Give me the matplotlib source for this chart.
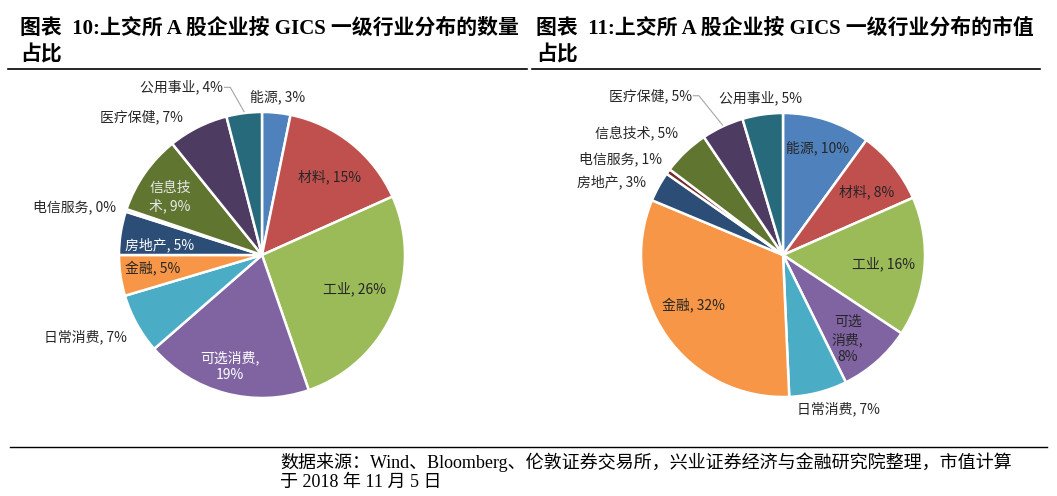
import numpy as np
import matplotlib.pyplot as plt
from matplotlib.lines import Line2D

plt.rcParams['font.family'] = ['Noto Sans CJK SC', 'DejaVu Sans']

W, H = 1057, 496

# 行业（顺时针，从12点方向开始）
categories = ['能源', '材料', '工业', '可选消费', '日常消费', '金融',
              '房地产', '电信服务', '信息技术', '医疗保健', '公用事业']
count_share = [3.2, 15.1, 26.4, 18.9, 6.8, 4.6, 4.9, 0.3, 9.0, 6.8, 4.0]    # 数量占比 %
mktcap_share = [10.0, 8.4, 15.9, 8.4, 6.6, 32.0, 3.4, 0.6, 5.3, 4.8, 4.6]   # 市值占比 %

colors = ['#4F81BD', '#C0504D', '#9BBB59', '#8064A2', '#4BACC6', '#F79646',
          '#2C4D75', '#772C2A', '#5F7530', '#4D3B62', '#276A7C']

title_left = '图表  10:上交所 A 股企业按 GICS 一级行业分布的数量\n占比'
title_right = '图表  11:上交所 A 股企业按 GICS 一级行业分布的市值\n占比'
source = ('数据来源：Wind、Bloomberg、伦敦证券交易所，兴业证券经济与金融研究院整理，市值计算\n'
          '于 2018 年 11 月 5 日')

DARK = '#262626'
LIGHT = '#FFFFFF'

fig = plt.figure(figsize=(W / 100, H / 100), dpi=100)


def draw_pie(cx, cy, R, values, lab_r, lab_dt, lab_col, wraps, leader):
    ax = fig.add_axes([(cx - R) / W, (H - cy - R) / H, 2 * R / W, 2 * R / H])
    wedges, _ = ax.pie(values, colors=colors, startangle=90, counterclock=False,
                       wedgeprops=dict(edgecolor='white', linewidth=1.8))
    ax.set_xlim(-1, 1)
    ax.set_ylim(-1, 1)
    ax.axis('off')
    texts = []
    for i, w in enumerate(wedges):
        mid = (w.theta1 + w.theta2) / 2
        a = np.deg2rad(mid - lab_dt[i])
        name = wraps.get(categories[i], categories[i] + ', ')
        s = '%s%.0f%%' % (name, values[i])
        t = ax.text(lab_r[i] * np.cos(a), lab_r[i] * np.sin(a), s,
                    ha='center', va='center', fontsize=10, color=lab_col[i],
                    linespacing=1.3)
        texts.append((t, mid))
    fig.canvas.draw()
    t, mid = texts[leader]
    bb = t.get_window_extent().transformed(ax.transData.inverted())
    yc = (bb.y0 + bb.y1) / 2
    m = np.deg2rad(mid)
    ax.add_line(Line2D([bb.x1 + 0.01, bb.x1 + 0.05, np.cos(m)],
                       [yc, yc, np.sin(m) + 0.01],
                       color='#A6A6A6', lw=0.8, clip_on=False))


# 左图：数量占比
draw_pie(262, 255, 143, count_share,
         lab_r=[1.11, 0.72, 0.69, 0.81, 1.36, 0.77, 0.72, 1.35, 0.76, 1.28, 1.30],
         lab_dt=[0, 2.4, -3.5, 1, 3.9, 1.5, -3.2, -3.9, -2.7, -14.4, -18.4],
         lab_col=[DARK, DARK, DARK, LIGHT, DARK, DARK, LIGHT, DARK, '#EAEAEA', DARK, DARK],
         wraps={'信息技术': '信息技\n术, ', '可选消费': '可选消费,\n'},
         leader=10)

# 右图：市值占比
draw_pie(783, 255, 142, mktcap_share,
         lab_r=[0.79, 0.74, 0.71, 0.75, 1.15, 0.72, 1.31, 1.33, 1.34, 1.46, 1.12],
         lab_dt=[0, 2, 0, 4, -5.4, 5.8, -5.8, -5.5, -6.8, -14.6, 0],
         lab_col=[DARK] * 11,
         wraps={'可选消费': '可选\n消费,\n'},
         leader=9)

# 标题（逐行放置）
tfont = dict(family=['Liberation Serif', 'Noto Sans CJK SC'], fontsize=15,
             fontweight='bold', va='center', ha='left')
for x0, title in [(20, title_left), (536, title_right)]:
    for k, line in enumerate(title.split('\n')):
        fig.text(x0 / W, 1 - (29 + 26 * k) / H, line, **tfont)
fig.add_artist(Line2D([8 / W, 527 / W], [1 - 69 / H] * 2, color='black', lw=1.2))
fig.add_artist(Line2D([532 / W, 1040 / W], [1 - 69 / H] * 2, color='black', lw=1.2))

# 数据来源
fig.add_artist(Line2D([10 / W, 1047 / W], [1 - 447 / H] * 2, color='black', lw=1.0))
fig.text(280 / W, 1 - 452 / H, source, family=['Liberation Serif', 'Noto Sans CJK SC'],
         fontsize=13, va='top', ha='left', linespacing=1.15)

fig.savefig('out.png', dpi=100)
